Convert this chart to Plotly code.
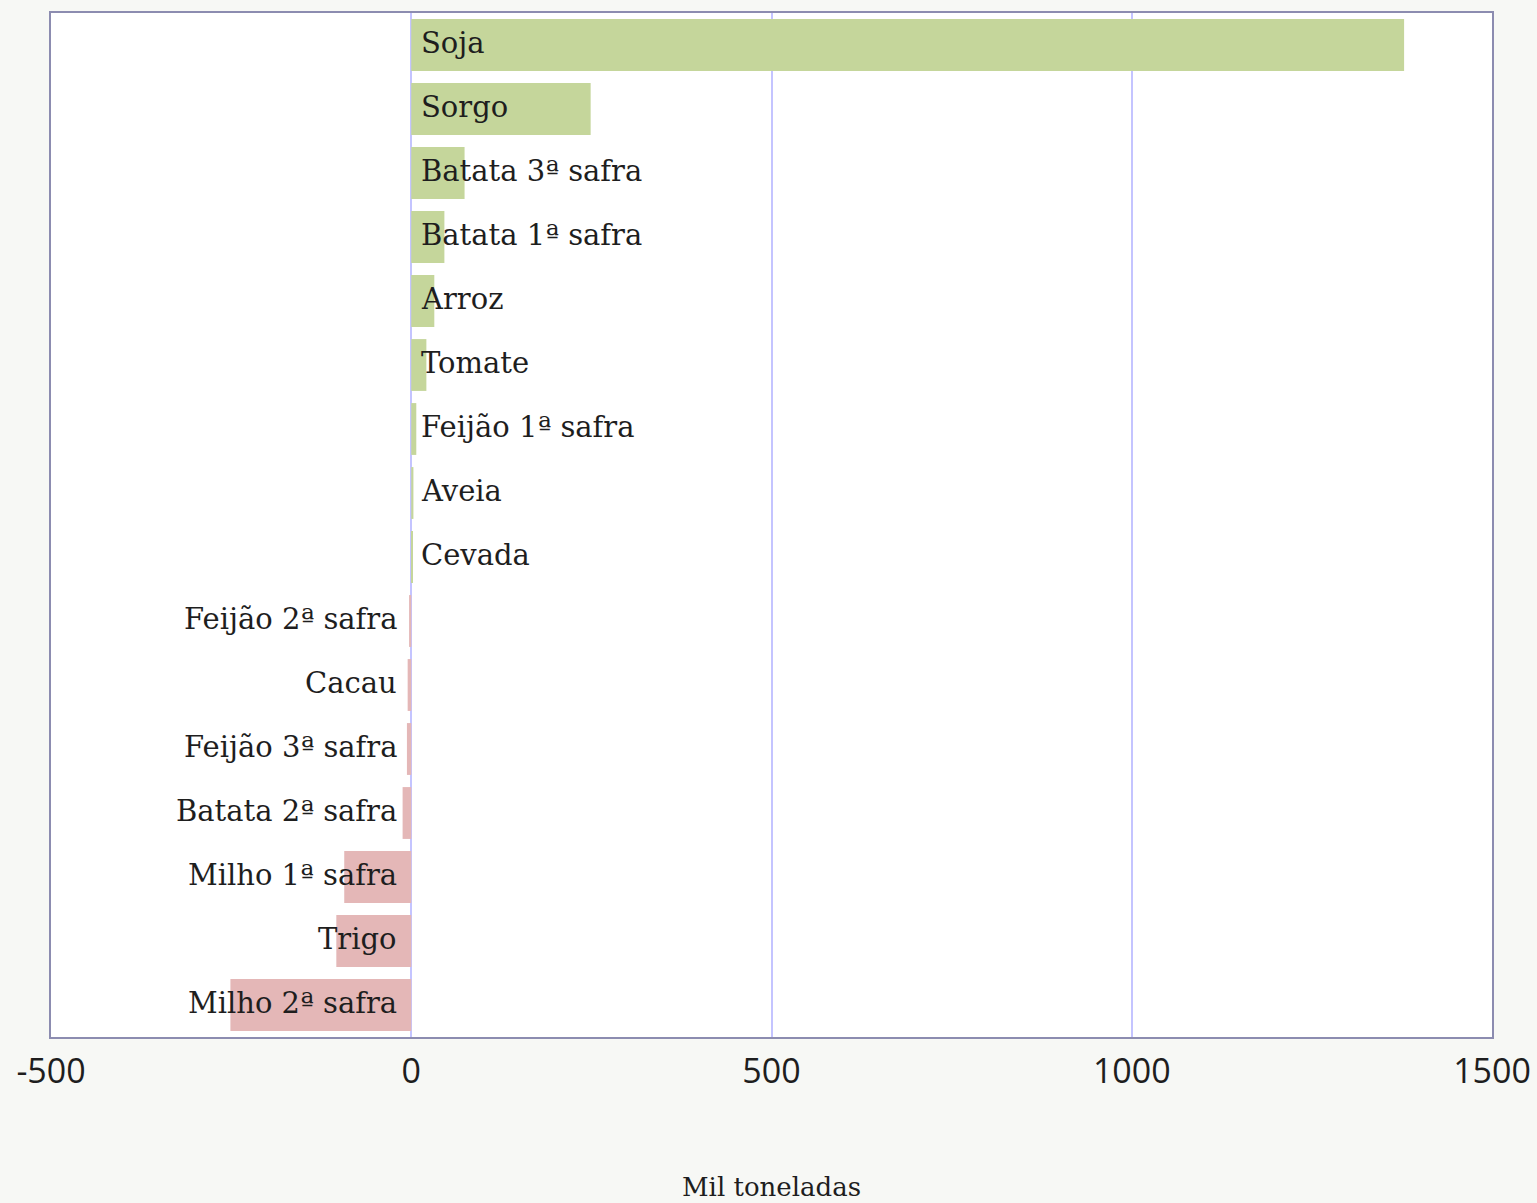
import plotly.graph_objects as go

categories = ["Soja", "Sorgo", "Batata 3ª safra", "Batata 1ª safra", "Arroz", "Tomate",
              "Feijão 1ª safra", "Aveia", "Cevada", "Feijão 2ª safra", "Cacau",
              "Feijão 3ª safra", "Batata 2ª safra", "Milho 1ª safra", "Trigo", "Milho 2ª safra"]
values = [1378, 249, 74, 46, 32, 21, 7, 3, 2, -3, -5, -6, -12, -93, -104, -251]
tick_vals = [-500, 0, 500, 1000, 1500]
tick_text = ["-500", "0", "500", "1000", "1500"]

GREEN = "#c5d69b"
RED = "#e4b7b7"
BG = "#f7f8f5"
GRID = "#c4c4ff"
colors = [GREEN if v >= 0 else RED for v in values]

fig = go.Figure()
fig.add_trace(go.Bar(
    x=values, y=categories, orientation="h",
    marker=dict(color=colors, line=dict(width=0)),
    hoverinfo="x+y",
))

for c, v in zip(categories, values):
    fig.add_annotation(
        x=0, y=c, text=c, showarrow=False,
        xanchor="left" if v >= 0 else "right",
        xshift=8 if v >= 0 else -12,
        yshift=2,
        font=dict(family="DejaVu Serif", size=29, color="#1e1e1e"),
    )

fig.update_layout(
    width=1537, height=1203,
    margin=dict(l=51, r=45, t=13, b=166),
    paper_bgcolor=BG,
    plot_bgcolor="#ffffff",
    bargap=0.19,
    showlegend=False,
    font=dict(family="Open Sans", color="#1e1e1e"),
)
fig.update_xaxes(
    range=[-500, 1500],
    automargin=False,
    tickvals=tick_vals, ticktext=tick_text,
    tickfont=dict(family="Open Sans", size=34, color="#1e1e1e"),
    ticklabelstandoff=3,
    showgrid=True, gridcolor=GRID, gridwidth=1.5,
    zeroline=True, zerolinecolor=GRID, zerolinewidth=1.5,
    showline=True, linecolor="#8c8cb0", linewidth=2, mirror=True,
    ticks="",
    title=dict(text="Mil toneladas", standoff=86,
               font=dict(family="DejaVu Serif", size=26, color="#1e1e1e")),
)
fig.update_yaxes(
    categoryorder="array", categoryarray=categories, autorange="reversed",
    automargin=False,
    showticklabels=False, showgrid=False,
    showline=True, linecolor="#8c8cb0", linewidth=2, mirror=True,
    ticks="",
)

fig.write_html(
    "out.html",
    config={"displayModeBar": False},
    post_script="document.body.style.margin='0';document.body.style.background='" + BG + "';",
)
